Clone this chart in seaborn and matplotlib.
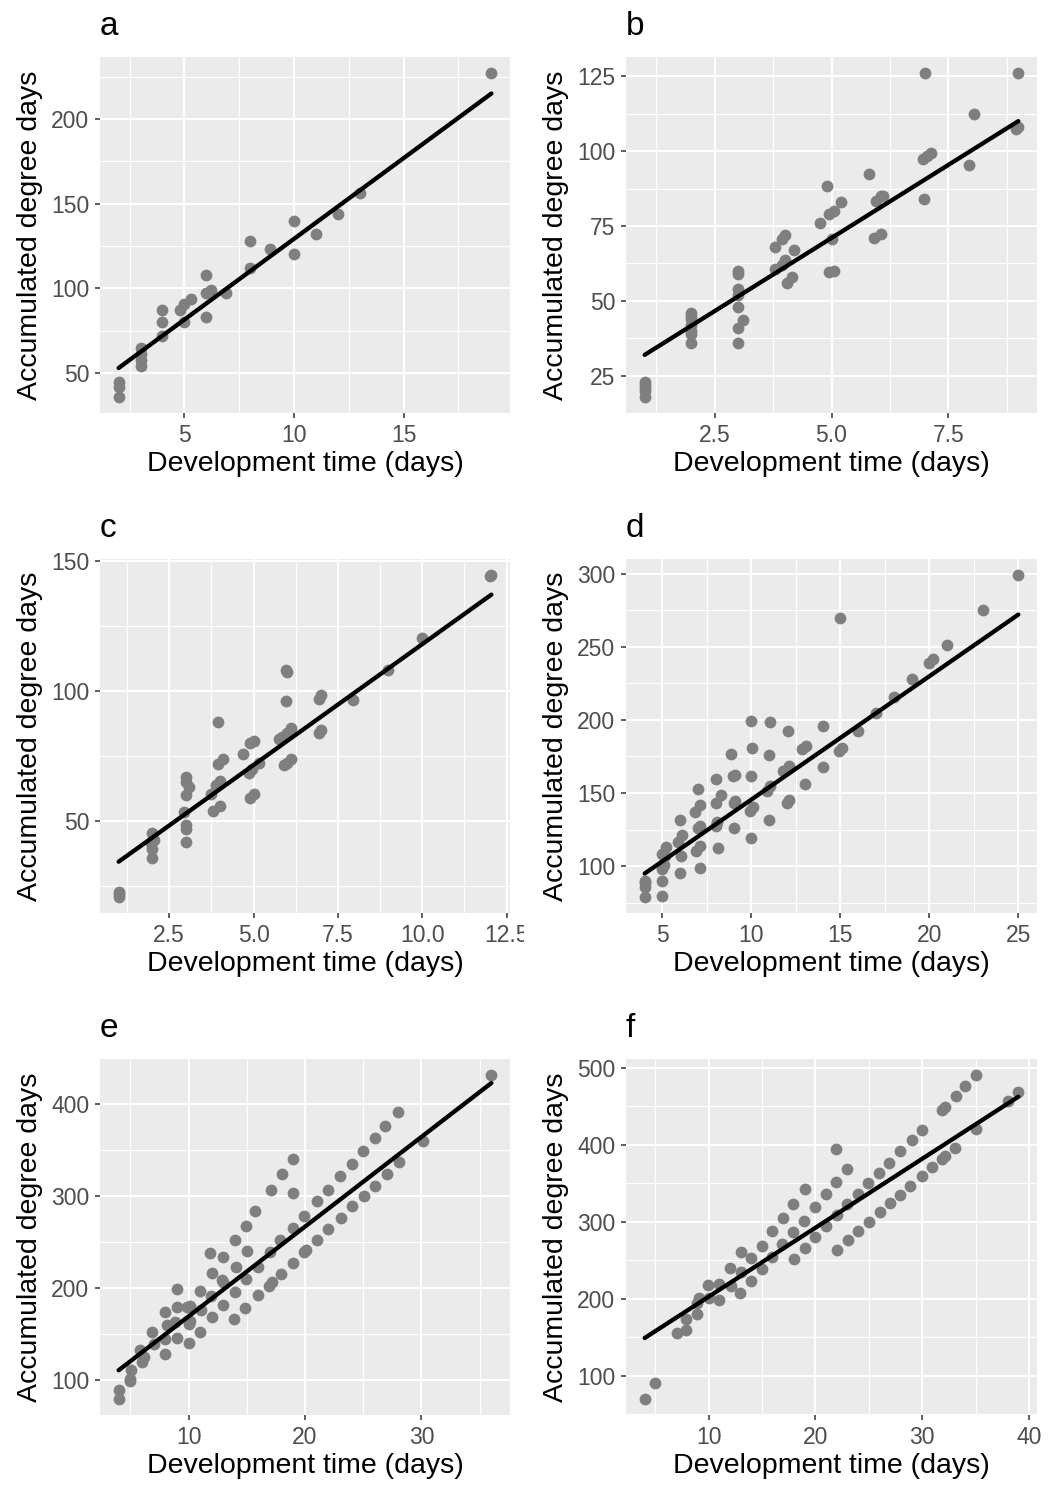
import numpy as np
import pandas as pd
import seaborn as sns
import matplotlib.pyplot as plt
from matplotlib.transforms import Bbox, TransformedBbox

# Данные панелей (время развития, накопленные градусо-дни)
a_x = [2, 2, 2, 3, 3, 3, 3, 4, 4, 4, 4.8, 5, 5.3, 5, 6, 6, 6, 6.2, 6.9, 8, 8, 8.9, 10, 10, 11, 12, 13, 19]
a_y = [45, 42, 36, 65, 61, 58, 54, 87, 80, 72, 87, 91, 94, 80, 83, 108, 97, 99, 97, 112, 128, 123, 140, 120,
       132, 144, 156, 227]

b_x = [1, 1, 1, 1, 1, 2, 2, 2, 2, 2, 2, 2, 3, 3, 3, 3, 3, 3.1, 3, 3, 3.8, 4, 3.95, 4.2, 4, 3.95, 3.8, 4.15, 4.05,
       4.9, 4.75, 4.95, 5.05, 5.2, 5, 5.05, 4.95, 5.8, 5.95, 6.05, 6.1, 5.9, 6.05, 7, 6.95, 7.05, 7.13, 6.97,
       8.05, 7.95, 9, 8.95, 9]
b_y = [23, 21, 20, 18, 22, 46, 45, 44, 42, 40, 39, 36, 60, 59, 54, 52, 48, 43.5, 41, 36, 68, 72, 70.5, 67, 63.5,
       62, 60.5, 58, 56, 88.5, 76, 79, 80, 83, 70.5, 60, 59.5, 92.5, 83.5, 85, 85, 71, 72.5, 126, 97.5, 98.5, 99.5,
       84, 112.5, 95.5, 126, 107.5, 108]

c_x = [1, 1, 1, 2, 2.05, 1.95, 2, 2, 3, 3, 3.1, 3, 2.95, 3, 3, 3, 3.95, 4.1, 3.95, 4, 3.9, 3.75, 4, 3.8, 4.7,
       5, 4.9, 5.15, 4.95, 4.85, 5, 4.9, 5.95, 6, 5.95, 6.1, 6, 5.85, 5.75, 6.1, 6, 5.9, 7, 6.95, 6.95, 7, 7.95,
       9, 10, 12, 12.05]
c_y = [22, 23, 21, 45.5, 43, 41.5, 39.5, 36, 67, 65, 63, 60, 53.5, 48.5, 47, 42, 88, 74, 72, 65.5, 64, 60.5, 56,
       54, 76, 81, 80, 72.5, 70, 68.5, 60.5, 59, 108, 107.5, 96, 86, 84, 82.5, 81.5, 74, 72.5, 71.5, 98.5, 97, 84,
       85, 96.5, 108, 120.5, 144, 144.5]

d_x = [4, 4, 4, 4, 5, 5, 5, 5.1, 5.15, 5, 5.2, 6, 6.05, 5.9, 6.1, 6, 7.1, 6.9, 7.1, 7, 7.1, 6.85, 7.1, 7,
       8.1, 8, 8.05, 8, 8.3, 8, 9, 9, 9.05, 8.95, 9.05, 8.85, 10, 9.9, 10.1, 10, 10.05, 10, 11, 10.9, 11.05, 11,
       11.05, 12, 12.1, 11.8, 12.1, 12.05, 13, 12.85, 13.05, 14, 14, 15, 14.9, 15.1, 16, 17, 18, 19, 20, 20.2,
       21, 23, 25]
d_y = [79, 86, 88.5, 90, 79.5, 90, 98, 100.5, 107, 108.5, 113, 95.5, 107, 116.5, 121, 131.5, 99, 110.5, 113.5,
       126, 127.5, 137, 141.5, 153, 112.5, 127.5, 130, 143.5, 149, 159.5, 126, 143.5, 144.5, 161.5, 162.5, 176.5,
       119.5, 137.5, 140.5, 161.5, 181, 199.5, 131.5, 151.5, 155, 176, 198.5, 143, 145, 165, 168.5, 192.5, 156,
       180, 182, 168, 196, 270, 179, 180.5, 192.5, 204.5, 216, 228, 239, 241.5, 251.5, 275, 299]

e_x = [4, 4.05, 5, 5, 5.1, 6, 6.15, 5.85, 7, 6.85, 8, 8, 8.15, 7.95, 9, 8.85, 9, 9.05, 10, 10, 10.15, 9.85,
       10.1, 11, 11.1, 11, 12, 11.95, 12, 11.85, 12.95, 13, 12.85, 13, 13.9, 13.95, 14.05, 14, 14.85, 14.9, 15,
       14.9, 15.75, 16, 16, 16.9, 17.15, 17, 17.05, 17.95, 17.85, 18.05, 18.95, 18.95, 18.95, 18.95, 19.95,
       20.05, 19.95, 21, 21, 22, 22, 23.1, 23, 24.05, 24, 25.1, 25, 26, 26, 27, 26.9, 28.05, 28, 30.1, 36]
e_y = [80, 90, 99, 102, 111, 120.5, 125, 132.5, 140, 152.5, 129, 145, 160.5, 174, 146, 163.5, 179.5, 199.5,
       140.5, 161.5, 164, 179.5, 181, 153, 177, 197.5, 168.5, 192, 216.5, 238, 182, 206.5, 209.5, 234, 167, 196,
       223.5, 252, 178.5, 210, 241, 268, 284, 223, 193, 203, 206.5, 239, 307, 215.5, 252, 324, 228, 265, 303, 341,
       239, 242, 279, 252, 294.5, 264, 307, 276.5, 322.5, 289, 335, 300.5, 349.5, 311.5, 363, 324, 376, 337, 392,
       360, 431.5]

f_x = [4, 5, 7, 7.9, 7.9, 8.9, 8.9, 9.05, 10, 9.95, 11, 10.95, 12.05, 12, 12.9, 13, 13, 13.95, 14, 14.95, 14.95,
       15.9, 15.95, 16.9, 16.95, 18, 17.9, 17.9, 19, 18.95, 19, 20, 20, 21, 20.95, 22.05, 22, 21.95, 21.95, 23.05,
       22.95, 22.95, 24, 24, 25, 24.9, 26, 25.95, 27, 26.9, 27.9, 27.95, 28.9, 29, 29.95, 29.95, 30.9, 31.85,
       32.15, 31.85, 32.15, 33.1, 33.15, 34.05, 35.05, 35, 38.05, 39]
f_y = [70, 90, 155, 160, 174, 180, 195, 201, 201, 218, 199, 219, 217, 240, 207.5, 234.5, 260.5, 223.5, 252.5,
       239, 269, 254, 287.5, 271.5, 305, 252, 286.5, 322.5, 266, 301.5, 342, 280, 319, 294, 335.5, 264, 309,
       351.5, 395, 277, 323.5, 368, 287.5, 336.5, 299.5, 351, 312.5, 364, 325, 377, 335, 391.5, 347, 406, 360,
       419, 371, 382, 386, 445, 449, 396, 463.5, 476.5, 490.5, 420, 456.5, 468]

# Линии регрессии (начало и конец)
a_fit_x, a_fit_y = [2, 19], [53, 215]
b_fit_x, b_fit_y = [1, 9], [32, 110]
c_fit_x, c_fit_y = [1, 12.05], [34.5, 137]
d_fit_x, d_fit_y = [4, 25], [95, 272]
e_fit_x, e_fit_y = [4, 36], [111, 423]
f_fit_x, f_fit_y = [4, 39], [149, 462.5]

# Подписи делений
a_xticks, a_xlabels = [5, 10, 15], ['5', '10', '15']
a_yticks, a_ylabels = [50, 100, 150, 200], ['50', '100', '150', '200']
b_xticks, b_xlabels = [2.5, 5.0, 7.5], ['2.5', '5.0', '7.5']
b_yticks, b_ylabels = [25, 50, 75, 100, 125], ['25', '50', '75', '100', '125']
c_xticks, c_xlabels = [2.5, 5.0, 7.5, 10.0, 12.5], ['2.5', '5.0', '7.5', '10.0', '12.5']
c_yticks, c_ylabels = [50, 100, 150], ['50', '100', '150']
d_xticks, d_xlabels = [5, 10, 15, 20, 25], ['5', '10', '15', '20', '25']
d_yticks, d_ylabels = [100, 150, 200, 250, 300], ['100', '150', '200', '250', '300']
e_xticks, e_xlabels = [10, 20, 30], ['10', '20', '30']
e_yticks, e_ylabels = [100, 200, 300, 400], ['100', '200', '300', '400']
f_xticks, f_xlabels = [10, 20, 30, 40], ['10', '20', '30', '40']
f_yticks, f_ylabels = [100, 200, 300, 400, 500], ['100', '200', '300', '400', '500']

sns.set_theme(style="darkgrid", rc={'axes.facecolor': '#EBEBEB', 'grid.color': 'white'})
plt.rcParams['font.family'] = ['Liberation Sans', 'DejaVu Sans']

W, H = 1055, 1485
fig = plt.figure(figsize=(W / 100, H / 100), dpi=100)
fig.patch.set_facecolor('white')


def px_axes(left, top, right, bottom):
    return fig.add_axes([left / W, 1 - bottom / H, (right - left) / W, (bottom - top) / H])


def minors(ticks, lo, hi):
    step = ticks[1] - ticks[0]
    m = np.arange(ticks[0] - step / 2, ticks[-1] + step, step)
    return [v for v in m if lo < v < hi]


def panel(box, x, y, fx, fy, xt, xl, yt, yl, letter):
    ax = px_axes(*box)
    sns.scatterplot(x=x, y=y, ax=ax, color='#7f7f7f', s=72, linewidth=0, alpha=1, zorder=3)
    sns.lineplot(x=fx, y=fy, ax=ax, color='black', lw=3.1, zorder=4)
    xr = max(x) - min(x)
    yr = max(y) - min(y)
    x0, x1 = min(x) - 0.05 * xr, max(x) + 0.05 * xr
    y0, y1 = min(y) - 0.05 * yr, max(y) + 0.05 * yr
    ax.set_xlim(x0, x1)
    ax.set_ylim(y0, y1)
    ax.set_xticks(xt, xl)
    ax.set_yticks(yt, yl)
    ax.set_xticks(minors(xt, x0, x1), minor=True)
    ax.set_yticks(minors(yt, y0, y1), minor=True)
    ax.grid(which='major', color='white', lw=1.5)
    ax.grid(which='minor', color='white', lw=0.8)
    ax.set_axisbelow(True)
    for s in ax.spines.values():
        s.set_visible(False)
    ax.tick_params(which='major', bottom=True, left=True, length=3.6, width=1.1, color='#333333',
                   labelsize=16.5, labelcolor='#4D4D4D', pad=4)
    ax.tick_params(which='minor', length=0)
    ax.set_xlabel('Development time (days)', fontsize=20.5, labelpad=3, color='black')
    ax.set_ylabel('Accumulated degree days', fontsize=20.5, labelpad=6, color='black')
    fig.text(box[0] / W, 1 - (box[1] - 22) / H, letter, fontsize=24, ha='left', va='baseline',
             color='black')
    return ax


L = (100, 510)
R = (626, 1037)
rows = [(57, 413), (559, 913), (1059, 1415)]

panel((L[0], rows[0][0], L[1], rows[0][1]), a_x, a_y, a_fit_x, a_fit_y,
      a_xticks, a_xlabels, a_yticks, a_ylabels, 'a')
panel((R[0], rows[0][0], R[1], rows[0][1]), b_x, b_y, b_fit_x, b_fit_y,
      b_xticks, b_xlabels, b_yticks, b_ylabels, 'b')
ax_c = panel((L[0], rows[1][0], L[1], rows[1][1]), c_x, c_y, c_fit_x, c_fit_y,
             c_xticks, c_xlabels, c_yticks, c_ylabels, 'c')
panel((R[0], rows[1][0], R[1], rows[1][1]), d_x, d_y, d_fit_x, d_fit_y,
      d_xticks, d_xlabels, d_yticks, d_ylabels, 'd')
panel((L[0], rows[2][0], L[1], rows[2][1]), e_x, e_y, e_fit_x, e_fit_y,
      e_xticks, e_xlabels, e_yticks, e_ylabels, 'e')
panel((R[0], rows[2][0], R[1], rows[2][1]), f_x, f_y, f_fit_x, f_fit_y,
      f_xticks, f_xlabels, f_yticks, f_ylabels, 'f')

# подпись 12.5 обрезается границей ячейки, как в оригинале
clip = TransformedBbox(Bbox.from_extents(0, 0, 524 / W, 1), fig.transFigure)
for lbl in ax_c.get_xticklabels():
    lbl.set_clip_box(clip)
    lbl.set_clip_on(True)

fig.savefig('out.png', dpi=100)
